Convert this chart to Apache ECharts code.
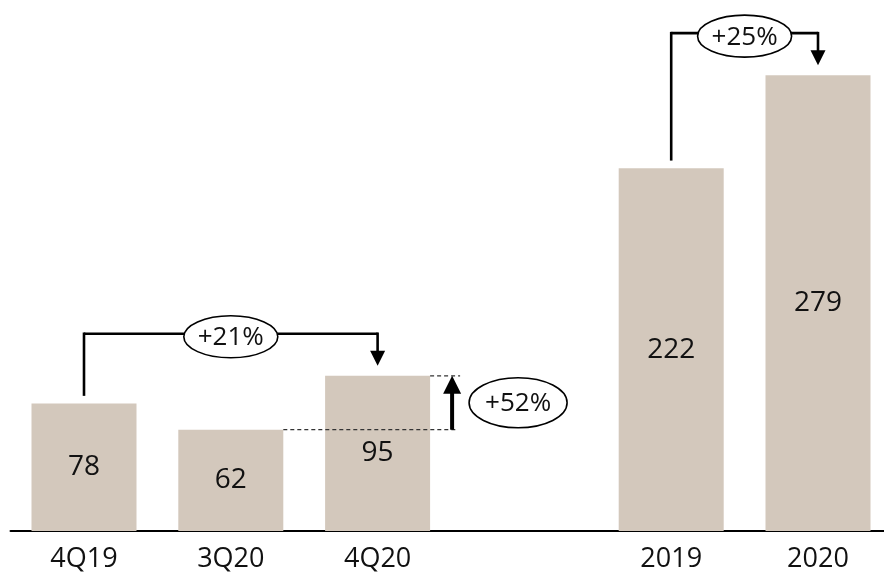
<!DOCTYPE html>
<html>
<head>
<meta charset="utf-8">
<script src="https://cdn.jsdelivr.net/npm/echarts@6/dist/echarts.min.js"></script>
<style>
  html, body { margin: 0; padding: 0; background: #fff; }
  #chart { width: 884px; height: 576px; }
</style>
</head>
<body>
<div id="chart"></div>
<script>
// Quarterly and annual totals; the empty slot separates the two groups.
const categories = ['4Q19', '3Q20', '4Q20', '', '2019', '2020'];
const values = [78, 62, 95, null, 222, 279];

// Year-over-year comparisons drawn as brackets over the bars.
const brackets = [
  { from: 0, to: 2, label: '+21%' },
  { from: 4, to: 5, label: '+25%' }
];
// Quarter-over-quarter step drawn beside the 4Q20 bar.
const steps = [
  { from: 1, to: 2, label: '+52%' }
];

const FONT = "'Open Sans', 'Noto Sans', sans-serif";
const BAR_COLOR = '#d3c8bc';
const BAR_WIDTH = 105;

const chart = echarts.init(document.getElementById('chart'), null, { renderer: 'canvas' });

chart.setOption({
  animation: false,
  backgroundColor: '#ffffff',
  grid: {
    left: 10.6, right: -7.4, top: 0, bottom: 45,
    containLabel: false,
    outerBoundsMode: 'none'
  },
  xAxis: {
    type: 'category',
    data: categories,
    axisTick: { show: false },
    axisLine: { lineStyle: { color: '#000', width: 2.2 } },
    axisLabel: { color: '#111', fontFamily: FONT, fontSize: 27, margin: 15 }
  },
  yAxis: {
    type: 'value',
    min: 0, max: 325,
    show: false,
    splitLine: { show: false }
  },
  series: [{
    type: 'bar',
    data: values,
    barWidth: BAR_WIDTH,
    itemStyle: { color: BAR_COLOR },
    label: {
      show: true,
      position: 'inside',
      color: '#111',
      fontFamily: FONT,
      fontSize: 28
    }
  }]
});

// Helpers that turn data positions into pixel positions.
const px = (i, v) => chart.convertToPixel({ seriesIndex: 0 }, [i, v]);
const half = BAR_WIDTH / 2;

const elements = [];
const stroke = (w, extra) => Object.assign({ stroke: '#000', lineWidth: w, fill: null }, extra || {});

function line(x1, y1, x2, y2, style, z) {
  elements.push({ type: 'line', shape: { x1, y1, x2, y2 }, style, z: z || 10, silent: true });
}
function arrowHead(x, tipY, w, h, dir) {
  // dir = 1 points down, -1 points up
  elements.push({
    type: 'polygon',
    shape: { points: [[x - w / 2, tipY - dir * h], [x + w / 2, tipY - dir * h], [x, tipY]] },
    style: { fill: '#000' }, z: 11, silent: true
  });
}
function bubble(cx, cy, rx, ry, text) {
  elements.push({
    type: 'ellipse', shape: { cx, cy, rx, ry },
    style: { fill: '#fff', stroke: '#000', lineWidth: 1.6 }, z: 20, silent: true
  });
  elements.push({
    type: 'text', x: cx, y: cy + 1, z: 21, silent: true,
    style: { text, fill: '#111', font: '26px ' + FONT, align: 'center', verticalAlign: 'middle' }
  });
}

brackets.forEach(b => {
  const s = px(b.from, values[b.from]);
  const e = px(b.to, values[b.to]);
  const yLine = Math.min(s[1], e[1]) - 42;
  const tipY = e[1] - 10;
  line(s[0], s[1] - 9, s[0], yLine, stroke(2.6, { lineCap: 'square' }));
  line(s[0], yLine, e[0], yLine, stroke(2.6));
  line(e[0], yLine, e[0], tipY - 12, stroke(2.6, { lineCap: 'square' }));
  arrowHead(e[0], tipY, 15, 15, 1);
  bubble((s[0] + e[0]) / 2, yLine + 3, 47, 21, b.label);
});

steps.forEach(st => {
  const lo = px(st.from, values[st.from]);
  const hi = px(st.to, values[st.to]);
  const dashed = { stroke: '#333', lineWidth: 1.2, lineDash: [4, 3], fill: null };
  line(lo[0] + half, lo[1], hi[0] + half + 28, lo[1], dashed, 5);
  line(hi[0] + half, hi[1], hi[0] + half + 30, hi[1], dashed, 5);
  const ax = hi[0] + half + 22;
  line(ax, lo[1], ax, hi[1] + 14, stroke(4));
  arrowHead(ax, hi[1], 18, 18, -1);
  bubble(hi[0] + half + 88, (lo[1] + hi[1]) / 2, 49, 25, st.label);
});

chart.setOption({ graphic: { elements } });
</script>
</body>
</html>
